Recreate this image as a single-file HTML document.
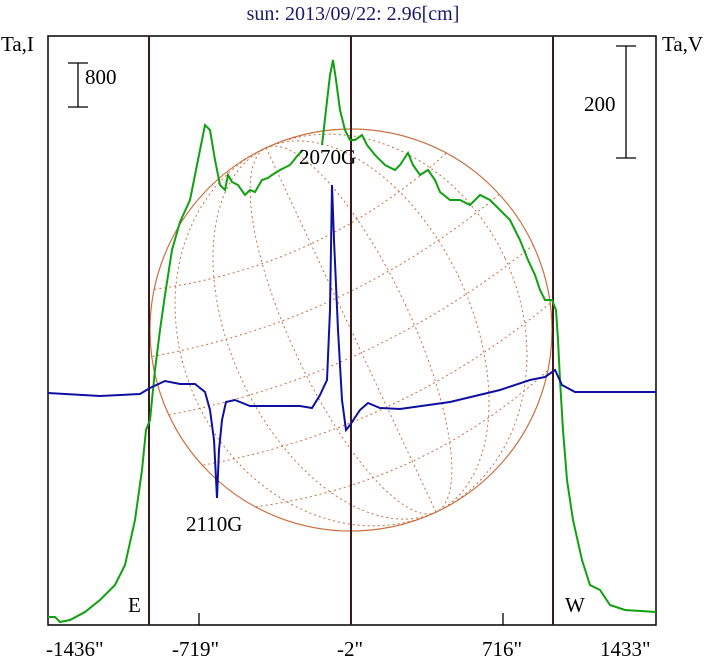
<!DOCTYPE html><html><head><style>body{margin:0;background:#fff}svg{display:block}text{font-family:"Liberation Serif",serif;font-size:21px;fill:#000}</style></head><body>
<svg width="706" height="660" viewBox="0 0 706 660">
<text x="353" y="20" text-anchor="middle" style="fill:#1a1a6a;font-size:20px">sun: 2013/09/22: 2.96[cm]</text>
<text x="1" y="51">Ta,I</text><text x="662" y="51">Ta,V</text>
<rect x="48" y="36" width="608" height="589" fill="none" stroke="#000" stroke-width="1.5"/>
<g stroke="#c87040" fill="none">
<circle cx="351" cy="330" r="201" stroke-width="1.2"/>
<g stroke-dasharray="2,3" stroke-width="1">
<g transform="rotate(-25 351 330)">
<ellipse cx="351" cy="330" rx="60" ry="201"/><ellipse cx="351" cy="330" rx="120" ry="201"/><ellipse cx="351" cy="330" rx="170" ry="201"/><line x1="351" y1="129" x2="351" y2="531"/>
<path d="M190,210 Q351,260 512,210 M160,270 Q351,320 542,270 M160,390 Q351,440 542,390 M190,450 Q351,500 512,450 M150,330 Q351,380 552,330"/>
</g></g></g>
<g stroke="#3a1a1a" stroke-width="2"><line x1="149" y1="36" x2="149" y2="625"/><line x1="351" y1="36" x2="351" y2="625"/><line x1="553" y1="36" x2="553" y2="625"/></g>
<g stroke="#000" stroke-width="1.3"><line x1="78" y1="63" x2="78" y2="107"/><line x1="68" y1="63" x2="88" y2="63"/><line x1="68" y1="107" x2="88" y2="107"/>
<line x1="626" y1="46" x2="626" y2="158"/><line x1="616" y1="46" x2="636" y2="46"/><line x1="616" y1="158" x2="636" y2="158"/>
<line x1="199" y1="625" x2="199" y2="613"/><line x1="503" y1="625" x2="503" y2="613"/></g>
<text x="85" y="84">800</text><text x="584" y="111">200</text>
<polyline fill="none" stroke="#10a010" stroke-width="2" points="48,617 55,617 60,622 70,620 85,612 100,600 115,585 125,565 135,520 142,470 146,430 150,420 155,370 160,330 165,295 172,250 180,222 190,200 198,160 205,125 210,130 215,160 220,185 225,190 228,175 232,182 238,185 245,195 250,190 255,192 262,180 268,178 272,175 280,170 290,165 298,155 303,150"/>
<polyline fill="none" stroke="#10a010" stroke-width="2" points="322,145 326,110 330,75 333,60 336,80 340,110 345,130 350,140 355,140 362,135 367,145 375,155 385,165 395,170 400,165 408,153 413,165 420,175 428,170 435,180 440,192 450,200 460,200 470,205 480,195 490,200 500,210 510,220 520,240 528,260 535,275 540,290 545,300 552,300 556,310 558,340 560,380 563,430 567,480 573,520 582,560 590,585 600,590 610,605 625,610 656,612"/>
<polyline fill="none" stroke="#1010a0" stroke-width="2" points="48,393 100,396 140,394 150,388 165,381 180,384 195,384 205,392 210,410 214,440 217,498 219,450 222,420 226,402 235,400 250,406 300,406 312,408 320,395 327,380 330,310 332,185 334,240 338,330 342,400 346,430 350,425 360,410 368,403 380,408 400,409 450,402 500,390 530,380 545,377 555,370 562,385 575,392 600,392 656,392"/>
<text x="299" y="164">2070G</text><text x="186" y="531">2110G</text>
<text x="128" y="612">E</text><text x="565" y="612">W</text>
<text x="46" y="656">-1436"</text><text x="172" y="656">-719"</text><text x="337" y="656">-2"</text><text x="482" y="656">716"</text><text x="600" y="656">1433"</text>
</svg></body></html>
